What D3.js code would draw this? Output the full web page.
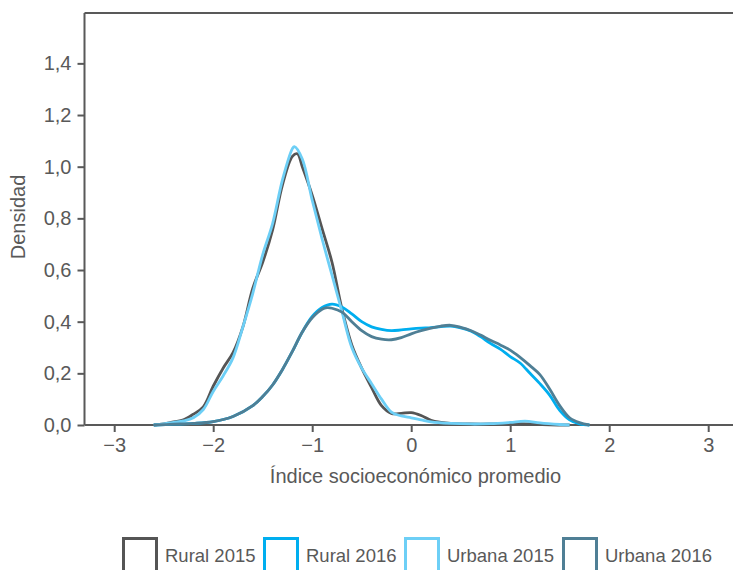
<!DOCTYPE html>
<html><head><meta charset="utf-8">
<script src="https://cdn.jsdelivr.net/npm/d3@7"></script>
<style>body{margin:0;background:#fff}svg{display:block}text{font-family:"Liberation Sans",Arial,sans-serif;fill:#595959}</style>
</head><body><svg id="c" width="733" height="570"></svg>
<script>
const seriesNames = ["Rural 2015", "Rural 2016", "Urbana 2015", "Urbana 2016"];
const seriesColors = ["#555555", "#00AEEF", "#6DCFF6", "#4F7F95"];
const xTicks = [-3, -2, -1, 0, 1, 2, 3];
const yTicks = [0, 0.2, 0.4, 0.6, 0.8, 1.0, 1.2, 1.4];

const rural2015 = [[-2.6,0],[-2.5,0.004],[-2.4,0.012],[-2.3,0.02],[-2.2,0.042],[-2.1,0.07],[-2.0,0.15],[-1.9,0.22],[-1.8,0.28],[-1.7,0.38],[-1.6,0.53],[-1.5,0.63],[-1.4,0.755],[-1.3,0.93],[-1.2,1.04],[-1.15,1.05],[-1.1,1.0],[-1.0,0.89],[-0.9,0.76],[-0.8,0.63],[-0.7,0.45],[-0.6,0.31],[-0.5,0.22],[-0.4,0.145],[-0.3,0.075],[-0.2,0.045],[-0.1,0.045],[0.0,0.048],[0.1,0.037],[0.2,0.018],[0.3,0.01],[0.4,0.006],[0.6,0.004],[0.8,0.004],[1.0,0.006],[1.2,0.004],[1.4,0.001],[1.6,0]];
const rural2016 = [[-2.6,0],[-2.4,0.003],[-2.2,0.006],[-2.0,0.013],[-1.8,0.033],[-1.6,0.075],[-1.5,0.11],[-1.4,0.155],[-1.3,0.215],[-1.2,0.285],[-1.1,0.36],[-1.0,0.42],[-0.9,0.455],[-0.8,0.468],[-0.7,0.457],[-0.6,0.43],[-0.5,0.4],[-0.4,0.38],[-0.3,0.37],[-0.2,0.365],[-0.1,0.368],[0.0,0.372],[0.1,0.375],[0.2,0.377],[0.3,0.381],[0.4,0.383],[0.5,0.376],[0.6,0.364],[0.7,0.342],[0.8,0.316],[0.9,0.294],[1.0,0.265],[1.1,0.24],[1.2,0.2],[1.3,0.16],[1.4,0.115],[1.5,0.057],[1.6,0.02],[1.7,0.004],[1.8,0]];
const urbana2015 = [[-2.6,0],[-2.5,0.004],[-2.4,0.01],[-2.3,0.016],[-2.2,0.028],[-2.1,0.06],[-2.0,0.13],[-1.9,0.19],[-1.8,0.26],[-1.7,0.38],[-1.6,0.51],[-1.5,0.66],[-1.4,0.78],[-1.3,0.95],[-1.2,1.07],[-1.18,1.078],[-1.1,1.03],[-1.0,0.87],[-0.9,0.72],[-0.8,0.58],[-0.7,0.44],[-0.6,0.3],[-0.5,0.22],[-0.4,0.16],[-0.3,0.1],[-0.2,0.05],[-0.1,0.035],[0.0,0.028],[0.1,0.02],[0.2,0.012],[0.4,0.006],[0.6,0.004],[0.8,0.005],[1.0,0.01],[1.15,0.015],[1.3,0.008],[1.5,0.002],[1.6,0]];
const urbana2016 = [[-2.6,0],[-2.4,0.003],[-2.2,0.006],[-2.0,0.013],[-1.8,0.033],[-1.6,0.075],[-1.5,0.11],[-1.4,0.155],[-1.3,0.215],[-1.2,0.285],[-1.1,0.36],[-1.0,0.415],[-0.9,0.448],[-0.85,0.454],[-0.8,0.452],[-0.7,0.437],[-0.6,0.4],[-0.5,0.365],[-0.4,0.342],[-0.3,0.332],[-0.2,0.33],[-0.1,0.338],[0.0,0.353],[0.1,0.365],[0.2,0.375],[0.3,0.383],[0.4,0.386],[0.5,0.378],[0.6,0.366],[0.7,0.348],[0.8,0.328],[0.9,0.31],[1.0,0.29],[1.1,0.262],[1.2,0.23],[1.3,0.195],[1.4,0.138],[1.5,0.075],[1.6,0.028],[1.7,0.009],[1.8,0]];
const seriesData = [rural2015, rural2016, urbana2015, urbana2016];

const svg = d3.select("#c");
const axisColor = "#595959";
const x = d3.scaleLinear().domain([-3.3, 3.3]).range([84.5, 737.9]);
const y = d3.scaleLinear().domain([0, 1.6]).range([425, 11.7]);

// frame: top and left lines
svg.append("line").attr("x1", 84.5).attr("x2", 740).attr("y1", 13).attr("y2", 13)
  .attr("stroke", axisColor).attr("stroke-width", 2);

const fmt = d => d3.format(".1f")(d).replace(".", ",");
const yAxis = svg.append("g").attr("transform", "translate(84.5,0)")
  .call(d3.axisLeft(y).tickValues(yTicks).tickFormat(fmt).tickSize(7).tickPadding(6));
yAxis.select(".domain").attr("d", "M0,13V425").attr("stroke", axisColor).attr("stroke-width", 2);
yAxis.selectAll(".tick line").attr("stroke", axisColor).attr("stroke-width", 2);
yAxis.selectAll(".tick text").attr("font-size", 20).style("fill", axisColor)
  .attr("font-family", "Liberation Sans, Arial, sans-serif");

const xAxis = svg.append("g").attr("transform", "translate(0,425)")
  .call(d3.axisBottom(x).tickValues(xTicks).tickFormat(d => d < 0 ? "\u2212" + Math.abs(d) : String(d)).tickSize(7).tickPadding(6));
xAxis.select(".domain").attr("d", "M84.5,0H740").attr("stroke", axisColor).attr("stroke-width", 2);
xAxis.selectAll(".tick line").attr("stroke", axisColor).attr("stroke-width", 2);
xAxis.selectAll(".tick text").attr("font-size", 20).style("fill", axisColor)
  .attr("font-family", "Liberation Sans, Arial, sans-serif");

svg.append("text").attr("x", 415.5).attr("y", 483).attr("text-anchor", "middle")
  .attr("font-size", 20).text("Índice socioeconómico promedio");
svg.append("text").attr("transform", "translate(25,217) rotate(-90)").attr("text-anchor", "middle")
  .attr("font-size", 20).text("Densidad");

const line = d3.line().x(d => x(d[0])).y(d => y(d[1])).curve(d3.curveCatmullRom.alpha(0.5));
seriesData.forEach((s, i) => {
  svg.append("path").datum(s).attr("d", line).attr("fill", "none")
    .attr("stroke", seriesColors[i]).attr("stroke-width", 2.8).attr("stroke-linejoin", "round");
});

// legend
const legendX = [122, 263, 404, 562];
seriesNames.forEach((n, i) => {
  const g = svg.append("g").attr("transform", `translate(${legendX[i]},537)`);
  g.append("rect").attr("x", 1.5).attr("y", 1.5).attr("width", 33).attr("height", 35)
    .attr("fill", "none").attr("stroke", seriesColors[i]).attr("stroke-width", 3);
  g.append("text").attr("x", 43).attr("y", 25).attr("font-size", 18.5).text(n);
});
</script></body></html>
